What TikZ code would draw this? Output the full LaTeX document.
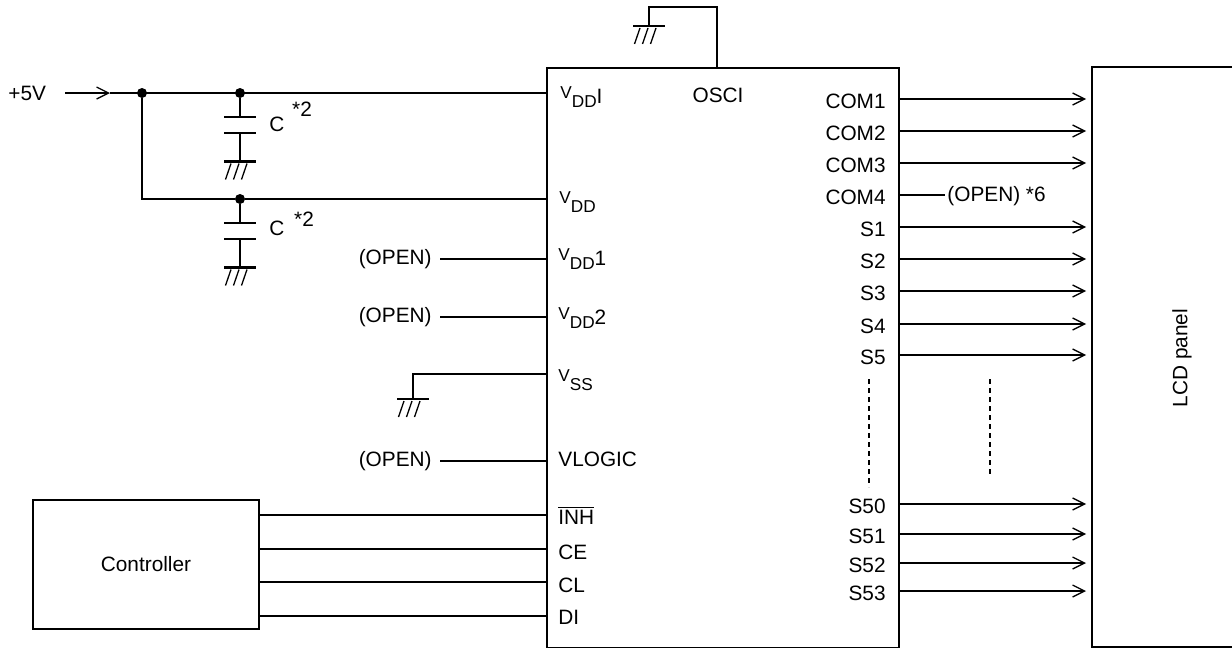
\documentclass[tikz,border=0pt]{standalone}
\usepackage{amsmath}
\usepackage{fontspec}
\setmainfont{Liberation Sans}
\usetikzlibrary{arrows.meta,positioning}

% small raised V with lowered subscript, as on the pin labels
\newcommand{\vsub}[2]{\raisebox{2.8pt}{\fontsize{8.6}{10}\selectfont V}\raisebox{-2pt}{\fontsize{8.6}{10}\selectfont #1}#2}

\tikzset{
    wire/.style={line width=0.65pt},
    sig/.style={wire, shorten >=2.5pt, -{Straight Barb[length=6pt,width=6pt]}},
    box/.style={draw, line width=1pt, inner sep=0pt, anchor=north west},
    lbl/.style={font=\fontsize{10.4}{12}\selectfont, inner sep=0pt},
    dot/.style={circle, fill, inner sep=0pt, minimum size=5pt},
    plate/.style={line width=0.9pt},
    gnd/.pic={
        \draw[line width=1.4pt] (-16,0) -- (16,0);
        \foreach \d in {-9,-1,7} \draw[wire] (\d,2) -- ++(-5.5,16);
    },
}

\begin{document}
\begin{tikzpicture}[x=0.5pt, y=-0.5pt]
    \clip (0,0) rectangle (1232,648);

    % Blocks
    \node[box, minimum width=176pt, minimum height=290pt] (ic) at (546,67) {};
    \node[box, minimum width=80pt, minimum height=290pt] (lcd) at (1091,66) {};
    \node[box, minimum width=113pt, minimum height=64.5pt, lbl] (ctrl) at (32,499) {};
    \node[lbl] at (ctrl.center) {Controller};
    \node[lbl, rotate=90] (lcdlbl) at (1182,358) {LCD panel};

    % +5V supply and junctions
    \node[lbl, anchor=west] (v5) at (8,93) {+5V};
    \coordinate (vin) at (65,93);
    \coordinate (vtip) at (110,93);
    \node[dot] (j1) at (142,93) {};
    \node[dot] (j2) at (240,93) {};
    \node[dot] (j3) at (240,199) {};
    \draw[sig, shorten >=0pt] (vin) -- (vtip);
    \draw[wire] (vtip) -- (ic.west |- j2);
    \draw[wire] (j1) |- (j3);
    \draw[wire] (j3) -- (ic.west |- j3);

    % Capacitors to ground
    \foreach \j/\yt in {j2/93, j3/199} {
        \draw[wire] (\j) -- (240,\yt+24);
        \draw[plate] (224,\yt+24) -- (256,\yt+24);
        \draw[plate] (224,\yt+39.6) -- (256,\yt+39.6);
        \draw[wire] (240,\yt+39.6) -- (240,\yt+68.5);
        \pic at (240,\yt+68.5) {gnd};
    }
    \node[lbl] (c1) at (277,124) {C};
    \node[lbl] (n1) at (302,109) {*2};
    \node[lbl] (c2) at (277,228) {C};
    \node[lbl] (n2) at (304,219) {*2};

    % OSCI to ground
    \coordinate (oscpin) at (717,67);
    \coordinate (gtop) at (649,26);
    \draw[wire] (oscpin) -- (717,7) -- (649,7) -- (gtop);
    \pic at (gtop) {gnd};
    \node[lbl] (osci) at (718,95) {OSCI};

    % Left pin labels
    \node[lbl, anchor=west] (pvddi) at (560,97) {\vsub{DD}{I}};
    \node[lbl, anchor=west] (pvdd) at (559,202) {\vsub{DD}{}};
    \node[lbl, anchor=west] (pvdd1) at (558,259) {\vsub{DD}{1}};
    \node[lbl, anchor=west] (pvdd2) at (558,318) {\vsub{DD}{2}};
    \node[lbl, anchor=west] (pvss) at (558,380) {\vsub{SS}{}};
    \node[lbl, anchor=west] (pvlogic) at (558,459) {VLOGIC};
    \node[lbl, anchor=west] (pinh) at (558,515) {$\overline{\text{INH}}$};
    \node[lbl, anchor=west] (pce) at (558,552) {CE};
    \node[lbl, anchor=west] (pcl) at (558,585) {CL};
    \node[lbl, anchor=west] (pdi) at (558,617) {DI};

    % Open pins
    \foreach \nm/\y in {o1/259, o2/317, o3/461} {
        \node[lbl, anchor=east] (\nm) at (432,\y) {(OPEN)};
        \draw[wire] ([xshift=4pt]\nm.east) -- (ic.west |- \nm.east);
    }

    % VSS to ground
    \coordinate (gv) at (413,374);
    \coordinate (gvbar) at (413,399);
    \draw[wire] (ic.west |- gv) -- (gv) -- (gvbar);
    \pic at (gvbar) {gnd};

    % Controller bus
    \foreach \y in {515,549,582,616}
        \draw[wire] (ctrl.east |- 0,\y) -- (ic.west |- 0,\y);

    % Outputs to the LCD panel
    \foreach \nm/\y in {COM1/99, COM2/131, COM3/163, S1/227, S2/259, S3/291, S4/324, S5/355, S50/504, S51/534, S52/563, S53/591} {
        \node[lbl, anchor=east] (\nm) at (886,\y+2) {\nm};
        \draw[sig] (ic.east |- 0,\y) -- (lcd.west |- 0,\y);
    }
    \node[lbl, anchor=east] (COM4) at (886,197) {COM4};
    \coordinate (c4end) at (945,195);
    \draw[wire] (ic.east |- c4end) -- (c4end);
    \node[lbl, anchor=west] (c4open) at (947,196) {(OPEN) *6};

    % Omitted outputs
    \draw[wire, dash pattern=on 2.5pt off 2pt] (869,379) -- (869,487);
    \draw[wire, dash pattern=on 2.5pt off 2pt] (990,379) -- (990,477);
\end{tikzpicture}
\end{document}
